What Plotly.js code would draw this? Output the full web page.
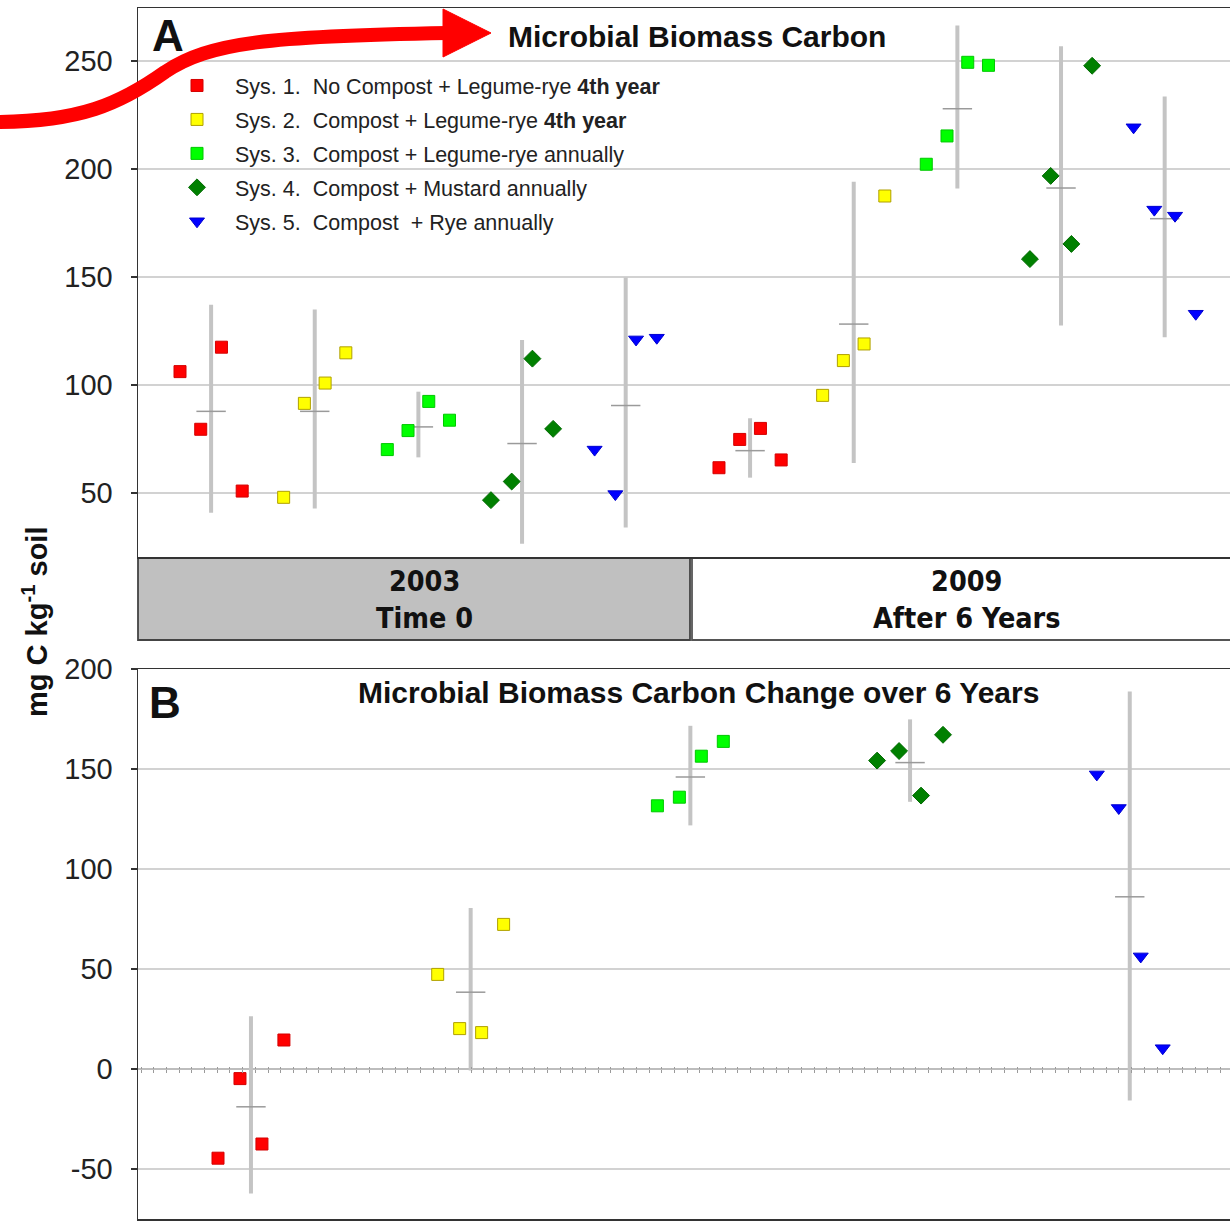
<!DOCTYPE html>
<html><head><meta charset="utf-8">
<script src="https://cdn.plot.ly/plotly-3.0.1.min.js"></script>
<style>html,body{margin:0;padding:0;background:#fff;overflow:hidden}</style>
</head><body><div id="chart" style="width:1230px;height:1224px"></div>
<script>
// ---------------- DATA ----------------
const sysNames = [
  'Sys. 1.\u00a0 No Compost + Legume-rye <b>4th year</b>',
  'Sys. 2.\u00a0 Compost + Legume-rye <b>4th year</b>',
  'Sys. 3.\u00a0 Compost + Legume-rye annually',
  'Sys. 4.\u00a0 Compost + Mustard annually',
  'Sys. 5.\u00a0 Compost\u00a0 + Rye annually'
];
const periodLabels = ['<b>2003</b><br><b>Time 0</b>', '<b>2009</b><br><b>After 6 Years</b>'];
const titleA = '<b>Microbial Biomass Carbon</b>';
const titleB = '<b>Microbial Biomass Carbon Change over 6 Years</b>';
const yTitle = '<b>mg C kg<sup>-1</sup> soil</b>';
const ticksA = [50, 100, 150, 200, 250];
const ticksB = [-50, 0, 50, 100, 150, 200];
const tickTextB = ['-50', '0', '50', '100', '150', '200'];

// Panel A, 2003 (four replicates per system)
const a2003 = [
  [106.2, 79.5, 117.5, 50.9],
  [48.0, 91.5, 100.9, 114.9],
  [70.1, 78.9, 92.4, 83.7],
  [46.7, 55.3, 112.2, 79.7],
  [70.1, 49.5, 121.1, 121.9]
];
const a2003Mean = [87.8, 87.8, 80.6, 72.9, 90.5];
const a2003Hi   = [137.1, 135.0, 96.9, 120.8, 149.8];
const a2003Lo   = [40.8, 42.8, 66.5, 26.5, 34.0];

// Panel A, 2009
const a2009 = [
  [61.7, 74.8, 79.9, 65.3],
  [95.2, 111.3, 119.0, 187.5],
  [202.2, 215.3, 249.4, 248.0],
  [158.3, 196.8, 165.3, 247.8],
  [219.3, 181.2, 178.4, 133.0]
];
const a2009Mean = [69.6, 128.2, 227.9, 191.2, 177.0];
const a2009Hi   = [84.6, 194.1, 266.4, 256.8, 233.6];
const a2009Lo   = [57.1, 63.9, 191.0, 127.5, 122.1];

// Panel B, change 2003 -> 2009
const bChange = [
  [-44.6, -4.8, -37.5, 14.5],
  [47.3, 20.2, 18.2, 72.3],
  [131.6, 135.9, 156.4, 163.8],
  [154.2, 159.0, 136.7, 167.1],
  [147.3, 130.5, 56.3, 10.4]
];
const bMean = [-18.9, 38.4, 146.0, 153.2, 86.1];
const bHi   = [26.4, 80.5, 171.6, 174.8, 188.8];
const bLo   = [-62.3, -0.7, 121.8, 133.6, -15.7];

// ---------------- STYLE ----------------
const W = 1230, H = 1224;
const px = v => v / W;
const py = v => 1 - v / H;
const FONT = 'Liberation Sans, Arial, Helvetica, sans-serif';
const NARROW = 'Liberation Sans Narrow, Arial Narrow, DejaVu Sans Condensed, sans-serif';
const fill = ['#ff0000', '#ffff00', '#00ff00', '#008000', '#0000ff'];
const edge = ['#d40000', '#b0a000', '#00c800', '#006a00', '#0000d0'];
const symbols = ['square', 'square', 'square', 'diamond', 'triangle-down'];
const sizes = [12, 12, 12, 13, 13];

const blocks = [
  {vals: a2003, mean: a2003Mean, hi: a2003Hi, lo: a2003Lo, off: 0,  step: 5,  xa: 'x',  ya: 'y',  legend: true},
  {vals: a2009, mean: a2009Mean, hi: a2009Hi, lo: a2009Lo, off: 26, step: 5,  xa: 'x',  ya: 'y',  legend: false},
  {vals: bChange, mean: bMean,   hi: bHi,     lo: bLo,     off: 0,  step: 10, xa: 'x2', ya: 'y2', legend: false}
];

const traces = [];
// error bars + mean ticks (drawn first, beneath the points)
blocks.forEach(b => {
  traces.push({
    type: 'scatter', mode: 'markers', xaxis: b.xa, yaxis: b.ya,
    x: b.mean.map((m, g) => b.off + g * b.step + 1.5),
    y: b.mean,
    error_y: {type: 'data', symmetric: false,
      array: b.hi.map((h, g) => h - b.mean[g]),
      arrayminus: b.lo.map((l, g) => b.mean[g] - l),
      color: '#c4c4c4', thickness: 4, width: 0},
    marker: {symbol: 'line-ew', size: 21, color: '#9a9a9a', line: {width: 1.5, color: '#9a9a9a'}},
    showlegend: false, hoverinfo: 'skip'
  });
});
// replicate points
blocks.forEach(b => {
  b.vals.forEach((reps, g) => {
    traces.push({
      type: 'scatter', mode: 'markers', xaxis: b.xa, yaxis: b.ya,
      x: reps.map((v, j) => b.off + g * b.step + j),
      y: reps,
      name: sysNames[g], legendgroup: 'sys' + g, showlegend: b.legend,
      marker: {symbol: symbols[g], size: sizes[g], color: fill[g], line: {width: 1, color: edge[g]}}
    });
  });
});
// carriers for the tick-only overlay axes on the zero line
traces.push({type: 'scatter', x: [], y: [], xaxis: 'x3', yaxis: 'y2', showlegend: false, hoverinfo: 'skip'});
traces.push({type: 'scatter', x: [], y: [], xaxis: 'x4', yaxis: 'y2', showlegend: false, hoverinfo: 'skip'});

const xDom = [px(138), 1];
const axisLine = {showline: true, linecolor: '#333', linewidth: 1.5};
const yCommon = Object.assign({}, axisLine, {
  ticks: 'outside', ticklen: 6, tickwidth: 1.5, tickcolor: '#333',
  tickfont: {family: FONT, size: 29, color: '#222'}, ticklabelstandoff: 12,
  showgrid: true, gridcolor: '#d2d2d2', gridwidth: 1.5, zeroline: false, fixedrange: true
});
const xCommon = Object.assign({}, axisLine, {
  mirror: true, showticklabels: false, ticks: '', showgrid: false, zeroline: false, domain: xDom, fixedrange: true
});
const zeroTicks = side => ({
  overlaying: 'x2', anchor: 'free', position: py(1069), domain: xDom,
  range: [0, 1092], tick0: 3, dtick: 12.7, ticks: side, ticklen: 2.5, tickwidth: 1, tickcolor: '#9a9a9a',
  showticklabels: false, showgrid: false, zeroline: false, showline: false, fixedrange: true
});

const layout = {
  width: W, height: H, autosize: false,
  margin: {l: 0, r: 0, t: 0, b: 0, pad: 0},
  paper_bgcolor: '#fff', plot_bgcolor: '#fff',
  font: {family: FONT, color: '#222'},
  xaxis: Object.assign({}, xCommon, {anchor: 'y', range: [(138 - 180) / 20.73, (1230 - 180) / 20.73]}),
  yaxis: Object.assign({}, yCommon, {anchor: 'x', domain: [py(557), py(8)],
    range: [50 - (557 - 493) / 2.16, 250 + (61 - 8) / 2.16], tickvals: ticksA, ticktext: ticksA.map(String)}),
  xaxis2: Object.assign({}, xCommon, {anchor: 'y2', range: [(138 - 218) / 21.97, (1230 - 218) / 21.97]}),
  yaxis2: Object.assign({}, yCommon, {anchor: 'x2', domain: [py(1219), py(669)],
    range: [-75, 200], tickvals: ticksB, ticktext: tickTextB,
    zeroline: true, zerolinecolor: '#bdbdbd', zerolinewidth: 1.5}),
  xaxis3: zeroTicks('outside'),
  xaxis4: zeroTicks('inside'),
  showlegend: true,
  legend: {x: px(159), y: py(65), xanchor: 'left', yanchor: 'top',
    font: {family: FONT, size: 21.5, color: '#222'}, bgcolor: 'rgba(0,0,0,0)',
    itemwidth: 66, tracegroupgap: 3, traceorder: 'grouped'},
  shapes: [
    {type: 'rect', xref: 'paper', yref: 'paper', x0: px(138), x1: px(690), y0: py(640), y1: py(558),
      fillcolor: '#c0c0c0', line: {color: '#444', width: 1.8}, layer: 'below'},
    {type: 'rect', xref: 'paper', yref: 'paper', x0: px(692), x1: px(1245), y0: py(640), y1: py(558),
      fillcolor: '#ffffff', line: {color: '#555', width: 1.8}, layer: 'below'},
    {type: 'path', xref: 'paper', yref: 'paper', layer: 'above',
      path: `M ${px(-6)},${py(122)} C ${px(80)},${py(122)} ${px(120)},${py(104)} ${px(165)},${py(72)} C ${px(210)},${py(42)} ${px(270)},${py(36)} ${px(448)},${py(33)}`,
      line: {color: '#ff0000', width: 14}},
    {type: 'path', xref: 'paper', yref: 'paper', layer: 'above',
      path: `M ${px(443)},${py(9)} L ${px(491)},${py(33)} L ${px(443)},${py(57)} Z`,
      fillcolor: '#ff0000', line: {color: '#ff0000', width: 1}}
  ],
  annotations: [
    {xref: 'paper', yref: 'paper', x: px(697), y: py(36), text: titleA, showarrow: false,
      font: {family: FONT, size: 30, color: '#111'}, xanchor: 'center', yanchor: 'middle'},
    {xref: 'paper', yref: 'paper', x: px(698), y: py(692), text: titleB, showarrow: false,
      font: {family: FONT, size: 30, color: '#111'}, xanchor: 'center', yanchor: 'middle'},
    {xref: 'paper', yref: 'paper', x: px(168), y: py(35), text: '<b>A</b>', showarrow: false,
      font: {family: FONT, size: 44, color: '#111'}, xanchor: 'center', yanchor: 'middle'},
    {xref: 'paper', yref: 'paper', x: px(165), y: py(702), text: '<b>B</b>', showarrow: false,
      font: {family: FONT, size: 44, color: '#111'}, xanchor: 'center', yanchor: 'middle'},
    {xref: 'paper', yref: 'paper', x: px(424), y: py(600), text: periodLabels[0], showarrow: false,
      font: {family: NARROW, size: 28.5, color: '#111'}, xanchor: 'center', yanchor: 'middle'},
    {xref: 'paper', yref: 'paper', x: px(967), y: py(600), text: periodLabels[1], showarrow: false,
      font: {family: NARROW, size: 28.5, color: '#111'}, xanchor: 'center', yanchor: 'middle'},
    {xref: 'paper', yref: 'paper', x: px(35), y: py(622), text: yTitle, showarrow: false, textangle: -90,
      font: {family: FONT, size: 29, color: '#111'}, xanchor: 'center', yanchor: 'middle'}
  ]
};

Plotly.newPlot('chart', traces, layout, {staticPlot: true, displayModeBar: false});
</script></body></html>
